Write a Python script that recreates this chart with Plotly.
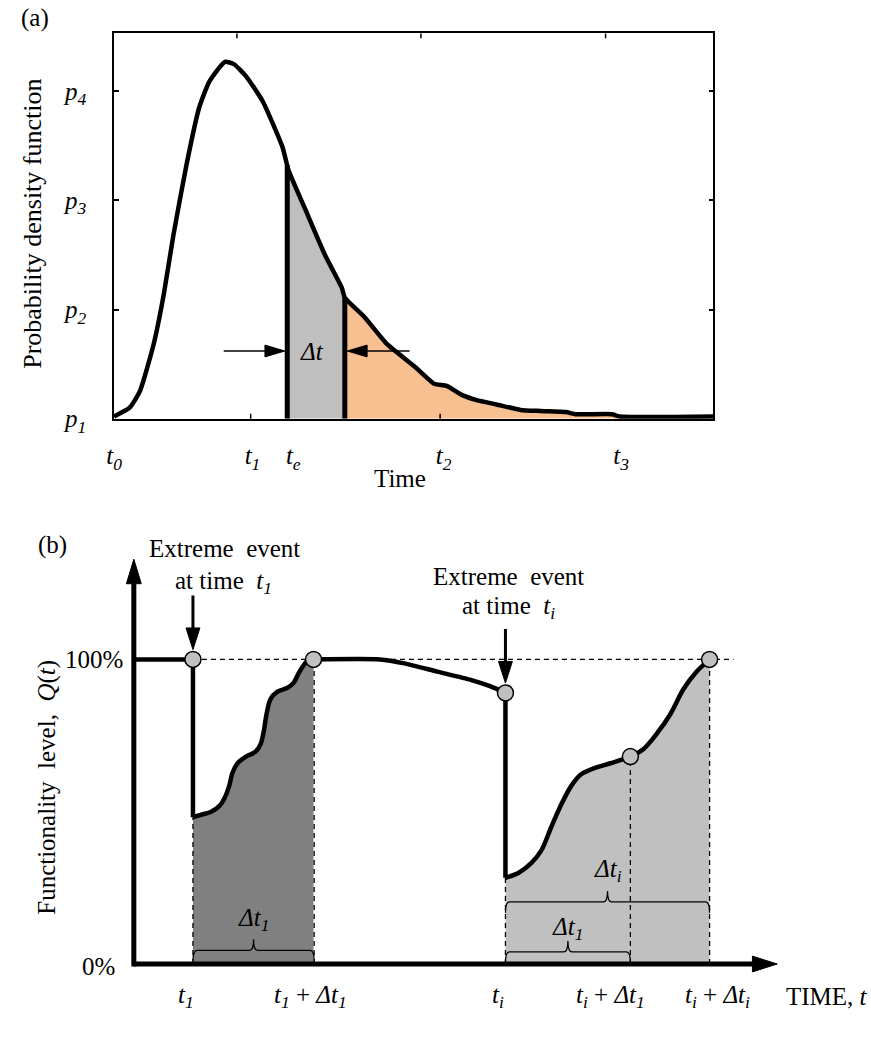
import numpy as np
import plotly.graph_objects as go

W, H = 871, 1040
FONT = "Liberation Serif, Times New Roman, serif"

# ================= Panel (a): probability density function =================
pdf_time = [0, 2.6, 4.3, 6.6, 8.3, 9.9, 12.1, 14.2, 15.9, 18.5, 20.0, 22.0, 24.8,
            28.1, 29.1, 31.9, 35.2, 38.0, 38.5, 41.8, 45.6, 50.1, 53.4, 55.5, 57.9,
            60.5, 63.8, 67.8, 71.1, 75.4, 77.0, 83.1, 84.3, 100]
pdf_value = [0.02, 0.10, 0.25, 0.68, 1.14, 1.68, 2.33, 2.85, 3.09, 3.27, 3.25, 3.14, 2.91,
             2.49, 2.28, 1.92, 1.50, 1.20, 1.11, 0.93, 0.68, 0.48, 0.32, 0.30, 0.22,
             0.17, 0.13, 0.08, 0.07, 0.06, 0.04, 0.04, 0.02, 0.02]
pdf_ytick_vals = [0, 1, 2, 3]
pdf_ytick_subs = ["1", "2", "3", "4"]
pdf_xlabel_vals = [0, 23.1, 29.9, 55.0, 84.6]
pdf_xlabel_subs = ["0", "1", "e", "2", "3"]
pdf_xtick_bottom = [22.8, 54.4]
pdf_xtick_top = [20.5, 51.2, 82.0]
t_e = 28.9
t_e_end = 38.5
dt_label_y = 0.62
dt_arrow_left_start = 18.3
dt_arrow_right_start = 49.3

# ================= Panel (b): functionality =================
t_1 = 9.18
t_1_end = 27.9
rec1_time = [9.18, 10.46, 12.0, 13.3, 14.0, 14.8, 15.3, 16.1, 17.4, 18.9, 19.7, 20.2,
             20.6, 21.2, 22.3, 23.8, 24.8, 25.6, 26.4, 27.1, 27.9]
rec1_q = [48.2, 49.0, 50.0, 51.9, 54.1, 58.4, 62.7, 65.9, 68.1, 69.7, 72.3, 76.7,
          82.0, 86.9, 89.4, 90.6, 92.3, 95.5, 98.2, 99.8, 100]
mid_time = [27.9, 38.2, 42.0, 47.1, 52.3, 55.3, 57.7]
mid_q = [100, 100, 98.7, 96.0, 93.3, 91.2, 89.0]
t_i = 57.7
t_i_mid = 77.1
t_i_end = 89.4
rec2_time = [57.7, 59.7, 61.7, 63.3, 64.8, 66.4, 67.9, 69.4, 71.5, 74.0, 77.1, 79.2,
             81.2, 83.3, 85.3, 87.4, 89.4]
rec2_q = [28.3, 29.9, 33.1, 37.4, 44.9, 52.5, 58.4, 62.2, 64.3, 65.9, 68.1, 70.7,
          75.6, 82.0, 90.1, 96.0, 100]
circle_time = [t_1, t_1_end, t_i, t_i_mid, t_i_end]
circle_q = [100, 100, 89.0, 68.1, 100]
ref_line_end = 93.1
x_axis_tip = 99.9
y_axis_tip = 132.9
b_xlabel_vals = [8.15, 27.4, 56.6, 74.0, 90.6]
b_xlabel_text = ["<i>t</i><sub><i>1</i></sub>",
                 "<i>t</i><sub><i>1</i></sub> + <i>Δt</i><sub><i>1</i></sub>",
                 "<i>t</i><sub><i>i</i></sub>",
                 "<i>t</i><sub><i>i</i></sub> + <i>Δt</i><sub><i>1</i></sub>",
                 "<i>t</i><sub><i>i</i></sub> + <i>Δt</i><sub><i>i</i></sub>"]
braces = [  # (start, end, level, label, label level)
    (t_1, 28.0, 4.5, "<i>Δt</i><sub><i>1</i></sub>", 14.5),
    (t_i, t_i_end, 20.4, "<i>Δt</i><sub><i>i</i></sub>", 30.6),
    (t_i, t_i_mid, 4.0, "<i>Δt</i><sub><i>1</i></sub>", 11.8),
]

# ---------------- geometry ----------------
def pxx(x):
    return x / W

def pxy(y):
    return 1 - y / H

A_SX, A_SY = 6.05, 111.0
A_YMAX = (426 - 34) / A_SY
B_SX, B_SY = 6.5, 3.1
B_X0PX, B_Y0PX = 127, 981
b_dom_px = (100, 800)
b_ydom_px = (560, 1000)
b_xrange = [(b_dom_px[0] - B_X0PX) / B_SX, (b_dom_px[1] - B_X0PX) / B_SX]
b_yrange = [(B_Y0PX - b_ydom_px[1]) / B_SY, (B_Y0PX - b_ydom_px[0]) / B_SY]


def tri(xref, yref, sx, sy, tx, ty, direction, length, half):
    if direction == "down":
        by = ty + length / sy
        pts = [(tx, ty), (tx - half / sx, by), (tx + half / sx, by)]
    elif direction == "up":
        by = ty - length / sy
        pts = [(tx, ty), (tx - half / sx, by), (tx + half / sx, by)]
    elif direction == "right":
        bx = tx - length / sx
        pts = [(tx, ty), (bx, ty - half / sy), (bx, ty + half / sy)]
    else:
        bx = tx + length / sx
        pts = [(tx, ty), (bx, ty - half / sy), (bx, ty + half / sy)]
    path = "M {} {} L {} {} L {} {} Z".format(*[v for p in pts for v in p])
    return dict(type="path", xref=xref, yref=yref, path=path,
                fillcolor="black", line=dict(color="black", width=1))


fig = go.Figure()

def segment(xs, ys, a, b):
    xs = np.asarray(xs, float)
    ys = np.asarray(ys, float)
    mask = (xs > a) & (xs < b)
    sx = np.concatenate([[a], xs[mask], [b]])
    sy = np.concatenate([[np.interp(a, xs, ys)], ys[mask], [np.interp(b, xs, ys)]])
    return sx, sy

# ---------- panel (a) traces ----------
gx, gy = segment(pdf_time, pdf_value, t_e, t_e_end)
fig.add_trace(go.Scatter(x=gx, y=gy, mode="lines", fill="tozeroy",
                         fillcolor="#BFBFBF", line=dict(width=0),
                         xaxis="x", yaxis="y", hoverinfo="skip"))
ox, oy = segment(pdf_time, pdf_value, t_e_end, pdf_time[-1])
fig.add_trace(go.Scatter(x=ox, y=oy, mode="lines", fill="tozeroy",
                         fillcolor="#F8C091", line=dict(width=0),
                         xaxis="x", yaxis="y", hoverinfo="skip"))
fig.add_trace(go.Scatter(x=pdf_time, y=pdf_value, mode="lines",
                         line=dict(color="black", width=4.5, shape="spline", smoothing=0.5),
                         xaxis="x", yaxis="y", hoverinfo="skip"))
for tv in (t_e, t_e_end):
    fig.add_trace(go.Scatter(x=[tv, tv], y=[0, float(np.interp(tv, pdf_time, pdf_value))],
                             mode="lines", line=dict(color="black", width=5),
                             xaxis="x", yaxis="y", hoverinfo="skip"))

# ---------- panel (b) traces ----------
fig.add_trace(go.Scatter(x=rec1_time, y=rec1_q, mode="lines", fill="tozeroy",
                         fillcolor="#808080",
                         line=dict(width=0, shape="spline", smoothing=0.8),
                         xaxis="x2", yaxis="y2", hoverinfo="skip"))
fig.add_trace(go.Scatter(x=rec2_time, y=rec2_q, mode="lines", fill="tozeroy",
                         fillcolor="#C0C0C0",
                         line=dict(width=0, shape="spline", smoothing=0.8),
                         xaxis="x2", yaxis="y2", hoverinfo="skip"))

dash = dict(color="black", width=1.3, dash="5px,4px")
fig.add_trace(go.Scatter(x=[t_1, ref_line_end], y=[100, 100], mode="lines", line=dash,
                         xaxis="x2", yaxis="y2", hoverinfo="skip"))
for tv, qv in [(t_1, rec1_q[0]), (28.0, 100), (t_i, rec2_q[0]),
               (t_i_mid, 68.1), (t_i_end, 100)]:
    fig.add_trace(go.Scatter(x=[tv, tv], y=[0, qv], mode="lines", line=dash,
                             xaxis="x2", yaxis="y2", hoverinfo="skip"))

blk = dict(color="black", width=4.5)
fig.add_trace(go.Scatter(x=[0, t_1, t_1], y=[100, 100, rec1_q[0]], mode="lines",
                         line=blk, xaxis="x2", yaxis="y2", hoverinfo="skip"))
fig.add_trace(go.Scatter(x=rec1_time, y=rec1_q, mode="lines",
                         line=dict(color="black", width=4.5, shape="spline", smoothing=0.8),
                         xaxis="x2", yaxis="y2", hoverinfo="skip"))
fig.add_trace(go.Scatter(x=mid_time, y=mid_q, mode="lines",
                         line=dict(color="black", width=4.5, shape="spline", smoothing=0.6),
                         xaxis="x2", yaxis="y2", hoverinfo="skip"))
fig.add_trace(go.Scatter(x=[t_i, t_i], y=[mid_q[-1], rec2_q[0]], mode="lines",
                         line=blk, xaxis="x2", yaxis="y2", hoverinfo="skip"))
fig.add_trace(go.Scatter(x=rec2_time, y=rec2_q, mode="lines",
                         line=dict(color="black", width=4.5, shape="spline", smoothing=0.8),
                         xaxis="x2", yaxis="y2", hoverinfo="skip"))
fig.add_trace(go.Scatter(x=circle_time, y=circle_q, mode="markers",
                         marker=dict(size=16, color="#C0C0C0",
                                     line=dict(color="black", width=1.5)),
                         cliponaxis=False, xaxis="x2", yaxis="y2", hoverinfo="skip"))

# ---------- shapes ----------
shapes = []
tick_len = 5 / (426 - 34)
for tv in pdf_xtick_bottom:
    shapes.append(dict(type="line", xref="x", yref="y domain", x0=tv, x1=tv,
                       y0=0, y1=tick_len, line=dict(color="black", width=1.5)))
for tv in pdf_xtick_top:
    shapes.append(dict(type="line", xref="x", yref="y domain", x0=tv, x1=tv,
                       y0=1, y1=1 - tick_len, line=dict(color="black", width=1.5)))
half_line = 2.5 / A_SX
shapes.append(dict(type="line", xref="x", yref="y", x0=dt_arrow_left_start,
                   x1=t_e - half_line - 18 / A_SX, y0=dt_label_y, y1=dt_label_y,
                   line=dict(color="black", width=1.3)))
shapes.append(tri("x", "y", A_SX, A_SY, t_e - half_line, dt_label_y, "right", 20, 6))
shapes.append(dict(type="line", xref="x", yref="y", x0=dt_arrow_right_start,
                   x1=t_e_end + half_line + 18 / A_SX, y0=dt_label_y, y1=dt_label_y,
                   line=dict(color="black", width=1.3)))
shapes.append(tri("x", "y", A_SX, A_SY, t_e_end + half_line, dt_label_y, "left", 20, 6))

# axes of (b)
x_head, y_head = 25, 25
shapes.append(dict(type="line", xref="x2", yref="y2", x0=0, x1=x_axis_tip - x_head / B_SX,
                   y0=0, y1=0, line=dict(color="black", width=5)))
shapes.append(tri("x2", "y2", B_SX, B_SY, x_axis_tip, 0, "right", x_head, 8))
shapes.append(dict(type="line", xref="x2", yref="y2", x0=0, x1=0, y0=-0.8,
                   y1=y_axis_tip - y_head / B_SY, line=dict(color="black", width=5)))
shapes.append(tri("x2", "y2", B_SX, B_SY, 0, y_axis_tip, "up", y_head, 7.5))

# event arrows
for tv, qv in [(t_1, 100), (t_i, mid_q[-1])]:
    tip = qv + 10 / B_SY
    top = qv + 65 / B_SY
    shapes.append(dict(type="line", xref="x2", yref="y2", x0=tv, x1=tv, y0=top,
                       y1=tip + 15 / B_SY, line=dict(color="black", width=3)))
    shapes.append(tri("x2", "y2", B_SX, B_SY, tv, tip, "down", 22, 7))

annotations = []
for (a, b, lvl, lab, laby) in braces:
    e = 4 / B_SX
    d = 11 / B_SY
    h = 11 / B_SY
    m = (a + b) / 2
    path = ("M {a} {yd} Q {a} {y} {ae} {y} L {me0} {y} Q {m} {y} {m} {yh} "
            "Q {m} {y} {me1} {y} L {be} {y} Q {b} {y} {b} {yd}").format(
        a=a, b=b, y=lvl, yd=lvl - d, ae=a + e, me0=m - e, me1=m + e, m=m,
        yh=lvl + h, be=b - e)
    shapes.append(dict(type="path", xref="x2", yref="y2", path=path,
                       line=dict(color="black", width=1.3)))
    annotations.append(dict(xref="x2", yref="y2", x=m, y=laby, text=lab,
                            showarrow=False, font=dict(size=25)))

# ---------- annotations ----------
def txt(x, y, text, size=25, **kw):
    d = dict(xref="paper", yref="paper", x=pxx(x), y=pxy(y), text=text,
             showarrow=False, font=dict(size=size), xanchor="center", yanchor="middle")
    d.update(kw)
    annotations.append(d)

txt(27.5, 18.5, "(a)")
txt(45, 555, "(b)")
txt(396, 487, "Time")
txt(24, 228, "Probability density function", size=26, textangle=-90)
txt(40, 801, "Functionality  level,  <i>Q</i>(<i>t</i>)", textangle=-90)
txt(219, 558, "Extreme  event")
txt(218, 593, "at time  <i>t</i><sub><i>1</i></sub>")
txt(505, 587, "Extreme  event")
txt(505, 618, "at time  <i>t</i><sub><i>i</i></sub>")
txt(118, 671, "100%", xanchor="right")
txt(110, 984, "0%", xanchor="right")
txt(827, 1014, "TIME, <i>t</i>")
for xv, tt in zip(b_xlabel_vals, b_xlabel_text):
    annotations.append(dict(xref="x2", yref="paper", x=xv, y=pxy(1014), text=tt,
                            showarrow=False, font=dict(size=25),
                            xanchor="center", yanchor="middle"))
annotations.append(dict(xref="x", yref="y", x=33.1, y=dt_label_y, text="<i>Δt</i>",
                        showarrow=False, font=dict(size=25)))

fig.update_layout(
    width=W, height=H, margin=dict(l=0, r=0, t=0, b=0),
    paper_bgcolor="white", plot_bgcolor="rgba(0,0,0,0)",
    font=dict(family=FONT, size=25, color="black"),
    showlegend=False,
    xaxis=dict(domain=[pxx(107), pxx(712)], range=[0, 100], anchor="y",
               showline=True, mirror=True, linecolor="black", linewidth=1.5,
               ticks="", tickvals=pdf_xlabel_vals,
               ticktext=["<i>t</i><sub><i>%s</i></sub>" % s for s in pdf_xlabel_subs],
               tickfont=dict(size=25),
               ticklabelstandoff=14, showgrid=False, zeroline=False, fixedrange=True),
    yaxis=dict(domain=[pxy(426), pxy(34)], range=[0, A_YMAX], anchor="x",
               showline=True, mirror="ticks", linecolor="black", linewidth=1.5,
               ticks="inside", ticklen=5, tickwidth=1.5, tickcolor="black",
               tickvals=pdf_ytick_vals,
               ticktext=["<i>p</i><sub><i>%s</i></sub>" % s for s in pdf_ytick_subs],
               tickfont=dict(size=25),
               ticklabelstandoff=21, showgrid=False, zeroline=False, fixedrange=True),
    xaxis2=dict(domain=[pxx(b_dom_px[0]), pxx(b_dom_px[1])], range=b_xrange,
                anchor="y2", visible=False, fixedrange=True),
    yaxis2=dict(domain=[pxy(b_ydom_px[1]), pxy(b_ydom_px[0])], range=b_yrange,
                anchor="x2", visible=False, fixedrange=True),
    shapes=shapes, annotations=annotations,
)

fig.write_html("out.html")
